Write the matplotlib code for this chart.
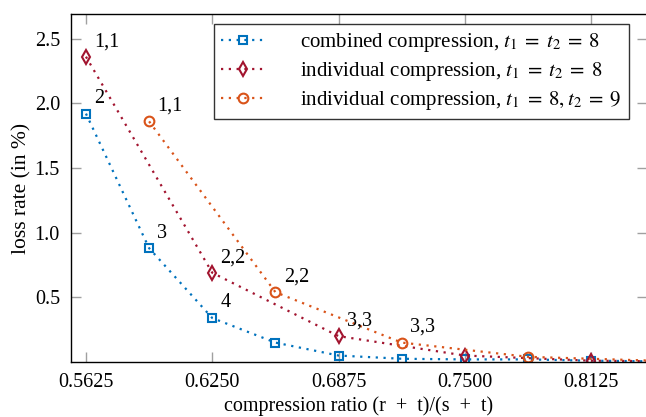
import matplotlib
matplotlib.use("Agg")
import matplotlib.pyplot as plt

plt.rcParams['font.family'] = ['Liberation Serif', 'DejaVu Serif']
plt.rcParams['mathtext.fontset'] = 'stix'

# Data
x_comb = [0.5625, 0.59375, 0.625, 0.65625, 0.6875, 0.71875, 0.75, 0.78125, 0.8125, 0.84375]
y_comb = [1.92, 0.88, 0.34, 0.15, 0.05, 0.025, 0.02, 0.02, 0.01, 0.005]
lab_comb = ["2", "3", "4"]

x_ind8 = [0.5625, 0.625, 0.6875, 0.75, 0.8125, 0.875]
y_ind8 = [2.36, 0.69, 0.20, 0.05, 0.01, 0.002]
lab_ind8 = ["1,1", "2,2", "3,3"]

x_ind89 = [0.59375, 0.65625, 0.71875, 0.78125, 0.84375]
y_ind89 = [1.86, 0.54, 0.15, 0.04, 0.01]
lab_ind89 = ["1,1", "2,2", "3,3"]

xticks = [0.5625, 0.625, 0.6875, 0.75, 0.8125]
xticklabels = ["0.5625", "0.6250", "0.6875", "0.7500", "0.8125"]
yticks = [0.5, 1.0, 1.5, 2.0, 2.5]
yticklabels = ["0.5", "1.0", "1.5", "2.0", "2.5"]

c_blue = '#0072BD'
c_red = '#A2142F'
c_orange = '#D95319'

FS = 14.5
W, H = 646, 417
fig = plt.figure(figsize=(W / 100, H / 100), dpi=100)
ax = fig.add_axes([71 / W, (H - 362) / H, 575.5 / W, 348 / H])

series = [
    (x_comb, y_comb, lab_comb, c_blue, 's', 5.5, r"combined compression, $t_1\;=\;t_2\;=\;8$"),
    (x_ind8, y_ind8, lab_ind8, c_red, 'd', 7, r"individual compression, $t_1\;=\;t_2\;=\;8$"),
    (x_ind89, y_ind89, lab_ind89, c_orange, 'o', 7, r"individual compression, $t_1\;=\;8,t_2\;=\;9$"),
]
for xs, ys, labs, col, mk, ms, name in series:
    ax.plot(xs, ys, linestyle=(0, (1, 2.5)), linewidth=1.6, color=col,
            marker=mk, markersize=ms, markerfacecolor='none', markeredgewidth=1.5,
            label=name, clip_on=True)
    for xi, yi, t in zip(xs, ys, labs):
        ax.annotate(t, (xi, yi), xytext=(6, 4), textcoords='offset points',
                    ha='left', va='bottom', fontsize=FS)

ax.set_xlim(0.5551, 0.8399)
ax.set_ylim(0, 2.69)
ax.set_xticks(xticks)
ax.set_xticklabels(xticklabels)
ax.set_yticks(yticks)
ax.set_yticklabels(yticklabels)
ax.tick_params(direction='in', length=7, width=1, color='#a0a0a0', top=True, right=True,
               labelsize=FS, pad=8)
for s in ax.spines.values():
    s.set_linewidth(1.0)
    s.set_color('black')

ax.set_xlabel("compression ratio (r  +  t)/(s  +  t)", fontsize=FS, labelpad=3)
ax.set_ylabel("loss rate (in %)", fontsize=15.5, labelpad=2)

leg = ax.legend(loc='upper right', bbox_to_anchor=(0.970, 0.971), borderaxespad=0,
                fontsize=15, frameon=True, fancybox=False, handlelength=2.1,
                handletextpad=1.7, labelspacing=0.28, borderpad=0.35)
leg.get_frame().set_edgecolor('black')
leg.get_frame().set_linewidth(1.0)

fig.savefig("out.png", dpi=100)
